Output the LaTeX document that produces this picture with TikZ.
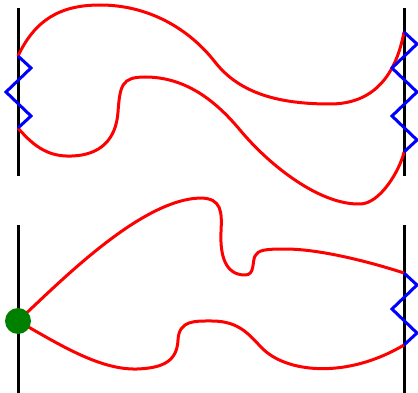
\documentclass[tikz,border=0pt]{standalone}
\begin{document}
\begin{tikzpicture}[x=1pt,y=-1pt,
  wall/.style={black,line width=3pt},
  curve/.style={red,line width=3pt,line join=round},
  spring/.style={blue,line width=3pt,line join=miter},
  pin/.style={circle,fill=green!50!black,minimum size=26pt,inner sep=0pt}]
\useasboundingbox (0,0) rectangle (418,393);
% walls
\coordinate (tlT) at (18,8);   \coordinate (tlB) at (18,176);
\coordinate (trT) at (404,8);  \coordinate (trB) at (404,176);
\coordinate (blT) at (18,225); \coordinate (blB) at (18,393);
\coordinate (brT) at (404,225);\coordinate (brB) at (404,393);
\draw[wall] (tlT) -- (tlB);
\draw[wall] (trT) -- (trB);
\draw[wall] (blT) -- (blB);
\draw[wall] (brT) -- (brB);
% end points
\coordinate (a1) at (18,56);  \coordinate (a2) at (18,128);
\coordinate (b1) at (404,32); \coordinate (b2) at (404,152);
\coordinate (c0) at (18,321);
\coordinate (d1) at (404,273);\coordinate (d2) at (404,345);
% red curves
\draw[curve] (a1) .. controls (35,20) and (60,5) .. (100,5)
  .. controls (150,5) and (190,30) .. (215,62)
  .. controls (240,94) and (280,104) .. (330,104)
  .. controls (370,104) and (395,80) .. (b1);
\draw[curve] (a2) .. controls (35,148) and (50,157) .. (72,156)
  .. controls (100,155) and (116,140) .. (118,112)
  .. controls (120,85) and (122,77) .. (145,77)
  .. controls (185,77) and (215,100) .. (240,130)
  .. controls (270,166) and (320,205) .. (360,204)
  .. controls (380,204) and (400,170) .. (b2);
\draw[curve] (c0) .. controls (60,282) and (140,200) .. (200,198)
  .. controls (222,198) and (222,212) .. (221,232)
  .. controls (220,255) and (225,275) .. (245,275)
  .. controls (255,275) and (252,262) .. (255,256)
  .. controls (258,250) and (265,249) .. (285,249)
  .. controls (320,249) and (370,262) .. (d1);
\draw[curve] (c0) .. controls (60,345) and (100,370) .. (137,369)
  .. controls (165,368) and (177,360) .. (178,340)
  .. controls (179,320) and (195,321) .. (212,321)
  .. controls (240,321) and (250,336) .. (262,348)
  .. controls (285,372) and (345,380) .. (d2);
% springs
\draw[spring] (a1) -- (31,68) -- (6,92) -- (31,116) -- (a2);
\draw[spring] (b1) -- (417,44) -- (392,68) -- (417,92) -- (392,116) -- (417,140) -- (b2);
\draw[spring] (d1) -- (417,285) -- (392,309) -- (417,333) -- (d2);
% pin
\node[pin] (p) at (c0) {};
\end{tikzpicture}
\end{document}
